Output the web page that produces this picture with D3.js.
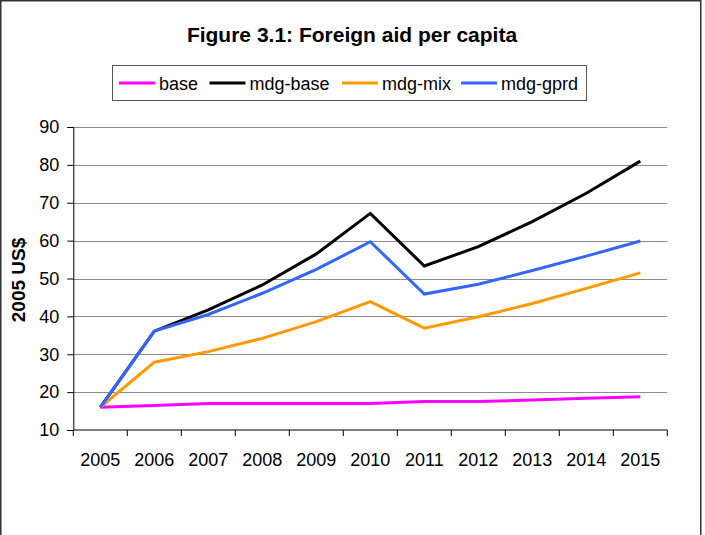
<!DOCTYPE html>
<html>
<head>
<meta charset="utf-8">
<script src="https://cdn.jsdelivr.net/npm/d3@7"></script>
<style>
  html, body { margin: 0; padding: 0; background: #fff; }
  svg { display: block; }
  text { font-family: "Liberation Sans", Arial, sans-serif; fill: #000; }
</style>
</head>
<body>
<script>
const years = ["2005","2006","2007","2008","2009","2010","2011","2012","2013","2014","2015"];
const seriesNames = ["base", "mdg-base", "mdg-mix", "mdg-gprd"];
const seriesColors = ["#FF00FF", "#000000", "#FF9900", "#3366FF"];
const baseValues    = [16.0, 16.5, 17.0, 17.0, 17.0, 17.0, 17.5, 17.5, 17.9, 18.4, 18.8];
const mdgBaseValues = [16.0, 36.1, 41.7, 48.3, 56.5, 67.2, 53.3, 58.4, 65.0, 72.5, 81.0];
const mdgMixValues  = [16.0, 27.9, 30.7, 34.2, 38.6, 43.9, 36.9, 39.9, 43.4, 47.4, 51.5];
const mdgGprdValues = [16.0, 36.1, 40.5, 46.1, 52.4, 59.7, 45.9, 48.5, 52.1, 55.9, 59.9];
const yTicks = [10, 20, 30, 40, 50, 60, 70, 80, 90];
const titleText = "Figure 3.1: Foreign aid per capita";
const yTitle = "2005 US$";

const seriesValues = [baseValues, mdgBaseValues, mdgMixValues, mdgGprdValues];
const W = 705, H = 535;
const svg = d3.select("body").append("svg").attr("width", W).attr("height", H);

// outer frame
svg.append("rect").attr("x", 0.75).attr("y", 0.75).attr("width", 700).attr("height", 540)
  .attr("fill", "none").attr("stroke", "#333").attr("stroke-width", 1.5);

const plotLeft = 73.3, plotRight = 667.3, plotTop = 127, plotBottom = 430;
const x = d3.scaleBand().domain(years).range([plotLeft, plotRight]);
const y = d3.scaleLinear().domain([10, 90]).range([plotBottom, plotTop]);

// gridlines
svg.append("g").selectAll("line").data(yTicks.filter(t => t > 10)).join("line")
  .attr("x1", plotLeft).attr("x2", plotRight)
  .attr("y1", d => Math.round(y(d)) + 0.5).attr("y2", d => Math.round(y(d)) + 0.5)
  .attr("stroke", "#8c8c8c").attr("stroke-width", 1);

// y axis
const yAxis = svg.append("g").attr("transform", `translate(${plotLeft},0)`)
  .call(d3.axisLeft(y).tickValues(yTicks).tickSize(6).tickPadding(8).tickFormat(d3.format("d")));
yAxis.select(".domain").attr("stroke", "#000");
yAxis.selectAll(".tick line").attr("stroke", "#000");
yAxis.selectAll("text").style("font-size", "18px").style("font-family", "'Liberation Sans', Arial, sans-serif");

// x axis with ticks between categories
const xAxisG = svg.append("g").attr("transform", `translate(0,${plotBottom})`);
xAxisG.append("line").attr("x1", plotLeft).attr("x2", plotRight).attr("y1", 0).attr("y2", 0).attr("stroke", "#000");
const boundaries = years.map(d => x(d)).concat([x(years[years.length - 1]) + x.bandwidth()]);
xAxisG.selectAll("line.tk").data(boundaries).join("line").attr("class", "tk")
  .attr("x1", d => d).attr("x2", d => d).attr("y1", 0).attr("y2", 6).attr("stroke", "#000");
xAxisG.selectAll("text").data(years).join("text")
  .attr("x", d => x(d) + x.bandwidth() / 2).attr("y", 36)
  .attr("text-anchor", "middle").style("font-size", "18px").text(d => d);

// lines
const line = d3.line().x((d, i) => x(years[i]) + x.bandwidth() / 2).y(d => y(d));
seriesValues.forEach((vals, i) => {
  svg.append("path").datum(vals).attr("d", line)
    .attr("fill", "none").attr("stroke", seriesColors[i]).attr("stroke-width", 3)
    .attr("stroke-linejoin", "miter");
});

// title
svg.append("text").attr("x", 352).attr("y", 42).attr("text-anchor", "middle")
  .style("font-size", "21px").style("font-weight", "bold").text(titleText);

// y title
svg.append("text").attr("transform", "translate(25,280) rotate(-90)").attr("text-anchor", "middle")
  .style("font-size", "19px").style("font-weight", "bold").text(yTitle);

// legend
const lg = svg.append("g");
lg.append("rect").attr("x", 112.5).attr("y", 65.5).attr("width", 474).attr("height", 35)
  .attr("fill", "#fff").attr("stroke", "#555").attr("stroke-width", 1);
const legendLineX = [119, 209.5, 342, 461];
seriesNames.forEach((name, i) => {
  lg.append("line").attr("x1", legendLineX[i]).attr("x2", legendLineX[i] + 36)
    .attr("y1", 83).attr("y2", 83).attr("stroke", seriesColors[i]).attr("stroke-width", 3);
  lg.append("text").attr("x", legendLineX[i] + 40).attr("y", 89.5)
    .style("font-size", "18px").text(name);
});
</script>
</body>
</html>
